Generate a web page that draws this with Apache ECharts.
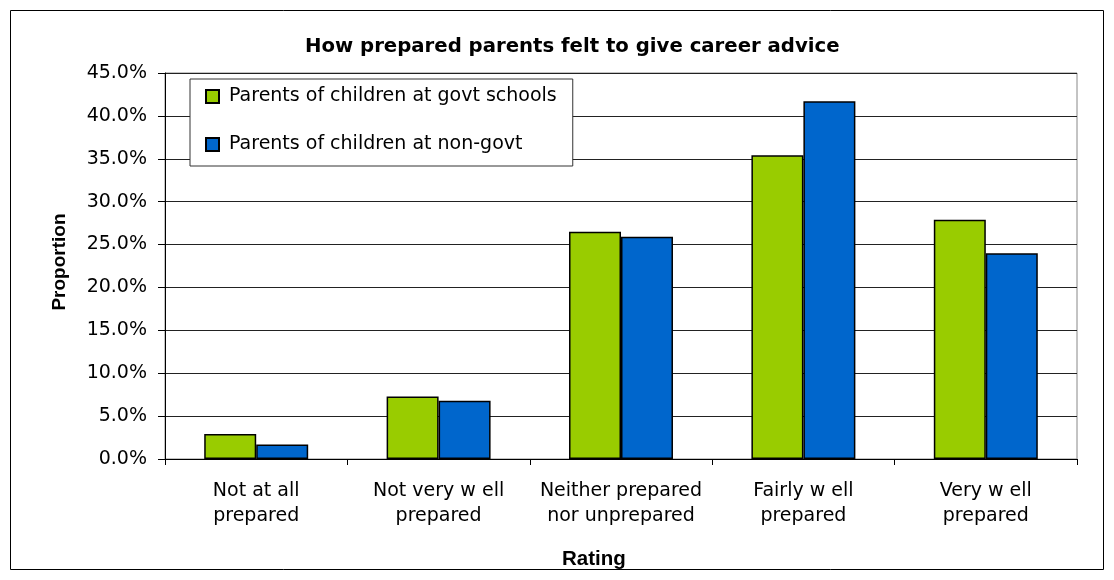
<!DOCTYPE html>
<html>
<head>
<meta charset="utf-8">
<title>How prepared parents felt to give career advice</title>
<script src="https://cdn.jsdelivr.net/npm/echarts@6/dist/echarts.min.js"></script>
<style>
  html, body { margin: 0; padding: 0; background: #fff; }
  #chart { width: 1114px; height: 580px; }
</style>
</head>
<body>
<div id="chart"></div>
<script>
// categories on the x axis
const categories = [
  "Not at all\nprepared",
  "Not very w ell\nprepared",
  "Neither prepared\nnor unprepared",
  "Fairly w ell\nprepared",
  "Very w ell\nprepared",
];
const seriesNames = [
  "Parents of children at govt schools",
  "Parents of children at non-govt schools",
];
// values in percent
const govtValues = [2.9, 7.3, 26.5, 35.4, 27.9];
const nonGovtValues = [1.7, 6.8, 25.9, 41.7, 24.0];

// wide sans for body text, arial-like for axis titles
const FONT = "DejaVu Sans, sans-serif";
const BOLD_FONT = "Liberation Sans, Arial, sans-serif";

const myChart = echarts.init(document.getElementById("chart"));

const option = {
  backgroundColor: "#fff",
  animation: false,
  title: [
    {
      text: "How prepared parents felt to give career advice",
      left: 300,
      top: 32,
      textStyle: { fontFamily: FONT, fontSize: 19.7, fontWeight: "bold", color: "#000" },
    },
    {
      text: "Rating",
      left: 557,
      top: 544,
      textStyle: { fontFamily: BOLD_FONT, fontSize: 20.5, fontWeight: "bold", color: "#000" },
    },
  ],
  legend: {
    orient: "vertical",
    left: 190,
    top: 79,
    backgroundColor: "#fff",
    borderColor: "#333",
    borderWidth: 1,
    padding: [8, 16, 12, 15],
    itemGap: 29,
    itemWidth: 13,
    itemHeight: 13,
    icon: "rect",
    data: seriesNames,
    // the second entry is cut off in the original box
    formatter: (name) => (name === seriesNames[1] ? "Parents of children at non-govt" : name),
    textStyle: { fontFamily: FONT, fontSize: 19, color: "#000", padding: [0, 0, 0, 5] },
  },
  grid: {
    left: 165,
    right: 37,
    top: 73,
    bottom: 121,
    show: true,
    borderColor: "#888",
    borderWidth: 1,
  },
  xAxis: {
    type: "category",
    data: categories,
    axisLine: { lineStyle: { color: "#000", width: 1 } },
    axisTick: { show: true, length: 6, lineStyle: { color: "#000" } },
    axisLabel: {
      interval: 0,
      margin: 20,
      fontFamily: FONT,
      fontSize: 19,
      lineHeight: 25,
      color: "#000",
    },
  },
  yAxis: {
    type: "value",
    min: 0,
    max: 45,
    interval: 5,
    name: "Proportion",
    nameLocation: "middle",
    nameGap: 96,
    nameTextStyle: {
      fontFamily: BOLD_FONT,
      fontSize: 19,
      fontWeight: "bold",
      color: "#000",
      padding: [0, 0, 0, 8],
    },
    axisLine: { show: true, lineStyle: { color: "#000", width: 1 } },
    axisTick: { show: true, length: 7, lineStyle: { color: "#000" } },
    axisLabel: {
      margin: 18,
      fontFamily: FONT,
      fontSize: 19,
      color: "#000",
      formatter: (v) => v.toFixed(1) + "%",
    },
    splitLine: { show: true, lineStyle: { color: "#222", width: 1 } },
  },
  series: [
    {
      name: seriesNames[0],
      type: "bar",
      data: govtValues,
      barGap: "0%",
      barCategoryGap: "43%",
      itemStyle: { color: "#99CC00", borderColor: "#000", borderWidth: 1.5 },
    },
    {
      name: seriesNames[1],
      type: "bar",
      data: nonGovtValues,
      itemStyle: { color: "#0066CC", borderColor: "#000", borderWidth: 1.5 },
    },
  ],
  graphic: [
    {
      // outer chart frame
      type: "rect",
      shape: { x: 10.5, y: 10.5, width: 1093, height: 559 },
      style: { fill: "none", stroke: "#000", lineWidth: 1 },
      silent: true,
    },
  ],
};

myChart.setOption(option);
</script>
</body>
</html>
